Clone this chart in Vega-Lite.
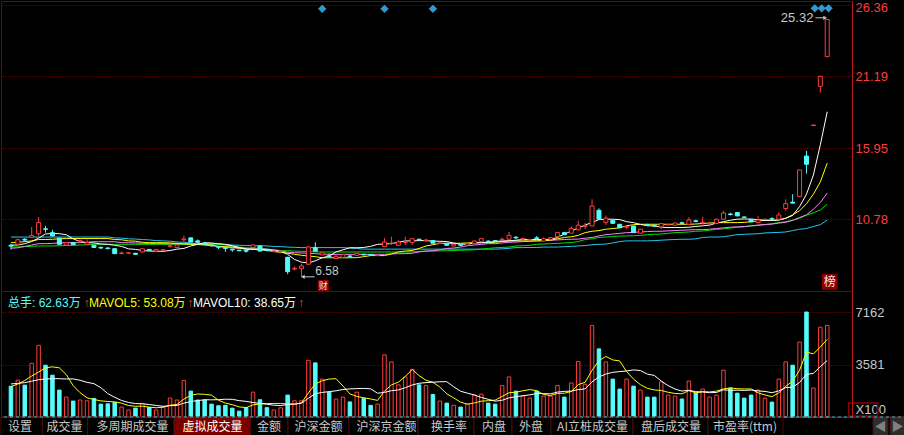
{
"$schema": "https://vega.github.io/schema/vega-lite/v6.json",
"background": "#000000",
"padding": 0,
"spacing": 0,
"bounds": "flush",
"resolve": {"scale": {"x": "independent", "y": "independent", "color": "independent"}},
"config": {"view": {"stroke": "#7a0000", "strokeWidth": 1}, "font": "Liberation Sans"},
"datasets": {
"k": [
{"i":0,"o":8.88,"c":8.82,"h":8.97,"l":8.56,"v":2100,"m5":8.9,"m10":9.07,"m20":8.66,"m30":8.76,"m60":9.48,"vm5":2080,"vm10":2260},
{"i":1,"o":8.95,"c":9.28,"h":9.36,"l":8.9,"v":2520,"m5":8.9,"m10":9.1,"m20":8.7,"m30":8.76,"m60":9.48,"vm5":2250,"vm10":2300},
{"i":2,"o":9.32,"c":9.26,"h":9.4,"l":9.18,"v":2180,"m5":9.0,"m10":9.15,"m20":8.8,"m30":8.78,"m60":9.48,"vm5":2500,"vm10":2350},
{"i":3,"o":9.47,"c":9.6,"h":10.21,"l":9.44,"v":3670,"m5":9.15,"m10":9.2,"m20":8.9,"m30":8.8,"m60":9.48,"vm5":2800,"vm10":2450},
{"i":4,"o":9.72,"c":10.53,"h":10.94,"l":9.55,"v":4900,"m5":9.4,"m10":9.3,"m20":9.0,"m30":8.83,"m60":9.48,"vm5":3074,"vm10":2550},
{"i":5,"o":10.08,"c":10.04,"h":10.3,"l":9.8,"v":3540,"m5":9.7,"m10":9.3,"m20":9.0,"m30":8.83,"m60":9.48,"vm5":3362,"vm10":2600},
{"i":6,"o":9.8,"c":9.56,"h":10.0,"l":9.53,"v":2860,"m5":9.75,"m10":9.32,"m20":9.02,"m30":8.83,"m60":9.48,"vm5":3430,"vm10":2620},
{"i":7,"o":9.4,"c":8.95,"h":9.42,"l":8.93,"v":1840,"m5":9.72,"m10":9.35,"m20":9.05,"m30":8.85,"m60":9.48,"vm5":3362,"vm10":2620},
{"i":8,"o":8.9,"c":9.07,"h":9.1,"l":8.88,"v":1360,"m5":9.65,"m10":9.37,"m20":9.07,"m30":8.86,"m60":9.48,"vm5":2900,"vm10":2600},
{"i":9,"o":9.07,"c":8.92,"h":9.08,"l":8.9,"v":1090,"m5":9.35,"m10":9.37,"m20":9.07,"m30":8.88,"m60":9.48,"vm5":2138,"vm10":2606},
{"i":10,"o":9.18,"c":9.22,"h":9.3,"l":9.1,"v":1160,"m5":9.15,"m10":9.37,"m20":9.07,"m30":8.9,"m60":9.48,"vm5":1662,"vm10":2512},
{"i":11,"o":8.92,"c":9.07,"h":9.3,"l":8.9,"v":1110,"m5":9.07,"m10":9.37,"m20":9.1,"m30":8.92,"m60":9.48,"vm5":1312,"vm10":2371},
{"i":12,"o":8.88,"c":8.72,"h":8.9,"l":8.7,"v":1270,"m5":9.05,"m10":9.37,"m20":9.14,"m30":8.95,"m60":9.48,"vm5":1198,"vm10":2280},
{"i":13,"o":8.72,"c":8.68,"h":8.8,"l":8.6,"v":880,"m5":8.98,"m10":9.37,"m20":9.14,"m30":8.95,"m60":9.48,"vm5":1102,"vm10":2001},
{"i":14,"o":8.68,"c":8.64,"h":8.75,"l":8.58,"v":900,"m5":8.95,"m10":9.37,"m20":9.14,"m30":8.95,"m60":9.48,"vm5":1064,"vm10":1601},
{"i":15,"o":8.63,"c":8.27,"h":8.65,"l":8.25,"v":1000,"m5":8.88,"m10":9.3,"m20":9.14,"m30":8.95,"m60":9.42,"vm5":1032,"vm10":1347},
{"i":16,"o":8.28,"c":8.32,"h":8.42,"l":8.22,"v":680,"m5":8.8,"m10":9.28,"m20":9.07,"m30":8.95,"m60":9.4,"vm5":946,"vm10":1129},
{"i":17,"o":8.3,"c":8.33,"h":8.38,"l":8.28,"v":480,"m5":8.62,"m10":9.2,"m20":9.07,"m30":8.95,"m60":9.35,"vm5":788,"vm10":993},
{"i":18,"o":8.3,"c":8.22,"h":8.32,"l":8.18,"v":610,"m5":8.58,"m10":9.18,"m20":9.05,"m30":8.95,"m60":9.33,"vm5":734,"vm10":918},
{"i":19,"o":8.39,"c":8.63,"h":8.65,"l":8.37,"v":930,"m5":8.5,"m10":9.1,"m20":9.03,"m30":8.95,"m60":9.3,"vm5":740,"vm10":902},
{"i":20,"o":8.58,"c":8.5,"h":8.6,"l":8.45,"v":660,"m5":8.46,"m10":9.07,"m20":9.02,"m30":8.95,"m60":9.27,"vm5":672,"vm10":852},
{"i":21,"o":8.46,"c":8.58,"h":8.6,"l":8.42,"v":480,"m5":8.45,"m10":9.07,"m20":9.0,"m30":8.95,"m60":9.22,"vm5":632,"vm10":789},
{"i":22,"o":8.53,"c":8.56,"h":8.6,"l":8.5,"v":680,"m5":8.44,"m10":9.07,"m20":9.0,"m30":8.95,"m60":9.2,"vm5":672,"vm10":730},
{"i":23,"o":8.8,"c":8.84,"h":9.1,"l":8.7,"v":1290,"m5":8.5,"m10":9.05,"m20":9.0,"m30":8.95,"m60":9.18,"vm5":808,"vm10":771},
{"i":24,"o":8.72,"c":8.9,"h":8.95,"l":8.7,"v":1160,"m5":8.6,"m10":9.02,"m20":9.0,"m30":8.95,"m60":9.12,"vm5":854,"vm10":797},
{"i":25,"o":9.28,"c":9.34,"h":9.58,"l":9.0,"v":2500,"m5":8.65,"m10":8.97,"m20":9.0,"m30":8.95,"m60":9.1,"vm5":1222,"vm10":947},
{"i":26,"o":9.42,"c":9.12,"h":9.44,"l":9.1,"v":1770,"m5":8.83,"m10":8.95,"m20":9.0,"m30":8.95,"m60":9.05,"vm5":1480,"vm10":1056},
{"i":27,"o":9.2,"c":9.1,"h":9.3,"l":9.03,"v":1160,"m5":8.95,"m10":8.95,"m20":8.95,"m30":8.95,"m60":9.0,"vm5":1576,"vm10":1124},
{"i":28,"o":9.05,"c":8.95,"h":9.08,"l":8.9,"v":1160,"m5":9.07,"m10":8.95,"m20":8.88,"m30":8.95,"m60":9.0,"vm5":1550,"vm10":1179},
{"i":29,"o":8.9,"c":8.85,"h":8.95,"l":8.78,"v":880,"m5":9.05,"m10":8.9,"m20":8.85,"m30":8.95,"m60":9.0,"vm5":1494,"vm10":1174},
{"i":30,"o":8.78,"c":8.74,"h":8.85,"l":8.6,"v":770,"m5":8.98,"m10":8.8,"m20":8.78,"m30":8.95,"m60":9.0,"vm5":1148,"vm10":1185},
{"i":31,"o":8.7,"c":8.65,"h":8.78,"l":8.4,"v":800,"m5":8.95,"m10":8.78,"m20":8.72,"m30":8.9,"m60":8.92,"vm5":954,"vm10":1217},
{"i":32,"o":8.6,"c":8.55,"h":8.63,"l":8.4,"v":600,"m5":8.85,"m10":8.75,"m20":8.7,"m30":8.8,"m60":8.9,"vm5":842,"vm10":1209},
{"i":33,"o":8.52,"c":8.48,"h":8.55,"l":8.45,"v":400,"m5":8.72,"m10":8.68,"m20":8.65,"m30":8.75,"m60":8.88,"vm5":690,"vm10":1120},
{"i":34,"o":8.5,"c":8.45,"h":8.62,"l":8.35,"v":640,"m5":8.62,"m10":8.6,"m20":8.6,"m30":8.7,"m60":8.86,"vm5":642,"vm10":1068},
{"i":35,"o":8.72,"c":8.9,"h":8.92,"l":8.7,"v":1700,"m5":8.6,"m10":8.58,"m20":8.6,"m30":8.68,"m60":8.85,"vm5":828,"vm10":988},
{"i":36,"o":8.83,"c":8.46,"h":8.85,"l":8.44,"v":1180,"m5":8.58,"m10":8.55,"m20":8.6,"m30":8.65,"m60":8.85,"vm5":904,"vm10":929},
{"i":37,"o":8.55,"c":8.5,"h":8.6,"l":8.42,"v":640,"m5":8.58,"m10":8.5,"m20":8.6,"m30":8.6,"m60":8.83,"vm5":912,"vm10":877},
{"i":38,"o":8.42,"c":8.46,"h":8.52,"l":8.4,"v":480,"m5":8.48,"m10":8.42,"m20":8.55,"m30":8.55,"m60":8.8,"vm5":928,"vm10":809},
{"i":39,"o":8.42,"c":8.47,"h":8.5,"l":8.4,"v":630,"m5":8.45,"m10":8.37,"m20":8.45,"m30":8.5,"m60":8.78,"vm5":926,"vm10":784},
{"i":40,"o":8.0,"c":6.96,"h":8.05,"l":6.77,"v":1500,"m5":8.22,"m10":8.3,"m20":8.38,"m30":8.48,"m60":8.75,"vm5":886,"vm10":857},
{"i":41,"o":7.15,"c":7.2,"h":7.35,"l":7.05,"v":1110,"m5":7.85,"m10":8.22,"m20":8.34,"m30":8.46,"m60":8.73,"vm5":872,"vm10":888},
{"i":42,"o":7.18,"c":7.37,"h":7.54,"l":6.58,"v":1110,"m5":7.65,"m10":8.15,"m20":8.32,"m30":8.44,"m60":8.71,"vm5":966,"vm10":939},
{"i":43,"o":7.5,"c":8.76,"h":8.8,"l":7.48,"v":3880,"m5":7.6,"m10":8.1,"m20":8.3,"m30":8.42,"m60":8.71,"vm5":1646,"vm10":1287},
{"i":44,"o":8.71,"c":8.45,"h":9.1,"l":8.42,"v":3700,"m5":7.75,"m10":8.05,"m20":8.27,"m30":8.4,"m60":8.71,"vm5":2260,"vm10":1593},
{"i":45,"o":8.18,"c":8.33,"h":8.36,"l":8.15,"v":2590,"m5":7.97,"m10":7.97,"m20":8.24,"m30":8.39,"m60":8.71,"vm5":2478,"vm10":1682},
{"i":46,"o":8.12,"c":8.06,"h":8.3,"l":7.98,"v":1700,"m5":8.1,"m10":7.97,"m20":8.22,"m30":8.39,"m60":8.71,"vm5":2596,"vm10":1734},
{"i":47,"o":7.92,"c":8.08,"h":8.15,"l":7.88,"v":1230,"m5":8.4,"m10":7.97,"m20":8.22,"m30":8.39,"m60":8.71,"vm5":2620,"vm10":1793},
{"i":48,"o":8.0,"c":8.2,"h":8.22,"l":7.98,"v":1360,"m5":8.55,"m10":7.97,"m20":8.22,"m30":8.39,"m60":8.71,"vm5":2116,"vm10":1881},
{"i":49,"o":8.1,"c":8.05,"h":8.2,"l":7.95,"v":1030,"m5":8.7,"m10":7.97,"m20":8.22,"m30":8.39,"m60":8.68,"vm5":1582,"vm10":1921},
{"i":50,"o":8.15,"c":8.3,"h":8.32,"l":8.12,"v":1700,"m5":8.7,"m10":7.98,"m20":8.22,"m30":8.39,"m60":8.65,"vm5":1404,"vm10":1941},
{"i":51,"o":8.22,"c":8.18,"h":8.25,"l":8.15,"v":1270,"m5":8.72,"m10":8.05,"m20":8.22,"m30":8.39,"m60":8.6,"vm5":1318,"vm10":1957},
{"i":52,"o":8.2,"c":8.17,"h":8.22,"l":8.14,"v":800,"m5":8.8,"m10":8.13,"m20":8.22,"m30":8.39,"m60":8.6,"vm5":1232,"vm10":1926},
{"i":53,"o":8.14,"c":8.16,"h":8.2,"l":8.1,"v":880,"m5":8.95,"m10":8.13,"m20":8.22,"m30":8.39,"m60":8.6,"vm5":1136,"vm10":1626},
{"i":54,"o":8.78,"c":9.12,"h":9.4,"l":8.75,"v":4250,"m5":8.97,"m10":8.13,"m20":8.22,"m30":8.39,"m60":8.6,"vm5":1780,"vm10":1681},
{"i":55,"o":9.01,"c":9.04,"h":9.5,"l":8.92,"v":3770,"m5":9.0,"m10":8.25,"m20":8.25,"m30":8.39,"m60":8.6,"vm5":2194,"vm10":1799},
{"i":56,"o":8.88,"c":9.12,"h":9.24,"l":8.86,"v":2200,"m5":9.1,"m10":8.4,"m20":8.27,"m30":8.39,"m60":8.6,"vm5":2380,"vm10":1849},
{"i":57,"o":9.08,"c":9.12,"h":9.5,"l":8.9,"v":2740,"m5":9.2,"m10":8.46,"m20":8.27,"m30":8.39,"m60":8.6,"vm5":2768,"vm10":2000},
{"i":58,"o":9.07,"c":9.36,"h":9.38,"l":8.9,"v":3260,"m5":9.2,"m10":8.5,"m20":8.3,"m30":8.4,"m60":8.6,"vm5":3244,"vm10":2190},
{"i":59,"o":9.32,"c":9.28,"h":9.36,"l":9.2,"v":2200,"m5":9.22,"m10":8.65,"m20":8.4,"m30":8.43,"m60":8.6,"vm5":2834,"vm10":2307},
{"i":60,"o":9.22,"c":9.26,"h":9.36,"l":9.12,"v":2150,"m5":9.22,"m10":8.83,"m20":8.46,"m30":8.46,"m60":8.6,"vm5":2510,"vm10":2352},
{"i":61,"o":9.22,"c":9.03,"h":9.24,"l":9.0,"v":1540,"m5":9.18,"m10":8.92,"m20":8.48,"m30":8.46,"m60":8.6,"vm5":2378,"vm10":2379},
{"i":62,"o":9.02,"c":9.05,"h":9.08,"l":9.0,"v":1090,"m5":9.17,"m10":9.02,"m20":8.55,"m30":8.47,"m60":8.6,"vm5":2048,"vm10":2408},
{"i":63,"o":9.03,"c":8.88,"h":9.05,"l":8.86,"v":950,"m5":9.15,"m10":9.02,"m20":8.65,"m30":8.48,"m60":8.6,"vm5":1586,"vm10":2415},
{"i":64,"o":8.83,"c":8.95,"h":8.97,"l":8.8,"v":800,"m5":9.05,"m10":9.02,"m20":8.68,"m30":8.5,"m60":8.6,"vm5":1306,"vm10":2070},
{"i":65,"o":8.92,"c":8.88,"h":8.98,"l":8.82,"v":680,"m5":8.95,"m10":9.03,"m20":8.75,"m30":8.52,"m60":8.6,"vm5":1012,"vm10":1761},
{"i":66,"o":8.9,"c":9.02,"h":9.05,"l":8.88,"v":880,"m5":8.97,"m10":9.05,"m20":8.85,"m30":8.53,"m60":8.6,"vm5":880,"vm10":1629},
{"i":67,"o":9.0,"c":9.19,"h":9.21,"l":8.98,"v":1500,"m5":9.05,"m10":9.07,"m20":8.9,"m30":8.55,"m60":8.6,"vm5":962,"vm10":1505},
{"i":68,"o":9.14,"c":9.36,"h":9.38,"l":9.12,"v":1560,"m5":9.07,"m10":9.07,"m20":8.95,"m30":8.6,"m60":8.6,"vm5":1084,"vm10":1335},
{"i":69,"o":9.18,"c":9.13,"h":9.25,"l":9.05,"v":950,"m5":9.1,"m10":9.07,"m20":9.0,"m30":8.65,"m60":8.6,"vm5":1114,"vm10":1210},
{"i":70,"o":9.22,"c":9.18,"h":9.26,"l":9.12,"v":880,"m5":9.15,"m10":9.1,"m20":9.0,"m30":8.7,"m60":8.6,"vm5":1154,"vm10":1083},
{"i":71,"o":9.28,"c":9.32,"h":9.45,"l":9.2,"v":2150,"m5":9.2,"m10":9.15,"m20":9.05,"m30":8.72,"m60":8.62,"vm5":1408,"vm10":1144},
{"i":72,"o":9.32,"c":9.6,"h":9.85,"l":9.3,"v":2740,"m5":9.2,"m10":9.2,"m20":9.1,"m30":8.75,"m60":8.66,"vm5":1656,"vm10":1309},
{"i":73,"o":9.46,"c":9.42,"h":9.55,"l":9.35,"v":1770,"m5":9.25,"m10":9.2,"m20":9.12,"m30":8.83,"m60":8.71,"vm5":1698,"vm10":1391},
{"i":74,"o":9.33,"c":9.38,"h":9.4,"l":9.3,"v":1430,"m5":9.3,"m10":9.2,"m20":9.15,"m30":8.85,"m60":8.71,"vm5":1794,"vm10":1454},
{"i":75,"o":9.28,"c":9.31,"h":9.34,"l":9.26,"v":1290,"m5":9.3,"m10":9.2,"m20":9.17,"m30":8.88,"m60":8.72,"vm5":1876,"vm10":1515},
{"i":76,"o":9.42,"c":9.38,"h":9.55,"l":9.28,"v":1770,"m5":9.3,"m10":9.2,"m20":9.2,"m30":8.95,"m60":8.72,"vm5":1800,"vm10":1604},
{"i":77,"o":9.19,"c":9.36,"h":9.45,"l":9.17,"v":1430,"m5":9.3,"m10":9.22,"m20":9.22,"m30":8.97,"m60":8.75,"vm5":1538,"vm10":1597},
{"i":78,"o":9.32,"c":9.44,"h":9.46,"l":9.3,"v":1430,"m5":9.3,"m10":9.25,"m20":9.25,"m30":9.0,"m60":8.75,"vm5":1470,"vm10":1584},
{"i":79,"o":9.5,"c":9.8,"h":9.82,"l":9.48,"v":2150,"m5":9.45,"m10":9.35,"m20":9.27,"m30":9.02,"m60":8.75,"vm5":1614,"vm10":1704},
{"i":80,"o":9.8,"c":9.65,"h":9.85,"l":9.62,"v":1360,"m5":9.7,"m10":9.45,"m20":9.3,"m30":9.05,"m60":8.78,"vm5":1628,"vm10":1752},
{"i":81,"o":9.76,"c":10.1,"h":10.27,"l":9.74,"v":2330,"m5":9.9,"m10":9.5,"m20":9.32,"m30":9.07,"m60":8.8,"vm5":1740,"vm10":1770},
{"i":82,"o":10.0,"c":10.34,"h":10.66,"l":9.98,"v":3790,"m5":10.15,"m10":9.6,"m20":9.33,"m30":9.15,"m60":8.83,"vm5":2212,"vm10":1875},
{"i":83,"o":10.26,"c":10.3,"h":10.5,"l":10.05,"v":2240,"m5":10.35,"m10":9.8,"m20":9.4,"m30":9.3,"m60":8.86,"vm5":2374,"vm10":1922},
{"i":84,"o":10.29,"c":11.74,"h":12.23,"l":10.27,"v":6250,"m5":10.55,"m10":9.9,"m20":9.45,"m30":9.35,"m60":8.92,"vm5":3194,"vm10":2404},
{"i":85,"o":11.43,"c":10.78,"h":11.57,"l":10.75,"v":4660,"m5":10.75,"m10":9.95,"m20":9.56,"m30":9.45,"m60":8.95,"vm5":3854,"vm10":2741},
{"i":86,"o":10.55,"c":10.86,"h":11.05,"l":10.35,"v":3770,"m5":10.78,"m10":10.05,"m20":9.65,"m30":9.48,"m60":8.97,"vm5":4142,"vm10":2941},
{"i":87,"o":10.7,"c":10.48,"h":10.72,"l":10.45,"v":2590,"m5":10.78,"m10":10.1,"m20":9.7,"m30":9.52,"m60":9.05,"vm5":3902,"vm10":3057},
{"i":88,"o":10.41,"c":10.16,"h":10.43,"l":10.14,"v":1910,"m5":10.75,"m10":10.15,"m20":9.75,"m30":9.55,"m60":9.15,"vm5":3836,"vm10":3105},
{"i":89,"o":10.2,"c":10.24,"h":10.35,"l":10.05,"v":2590,"m5":10.6,"m10":10.3,"m20":9.8,"m30":9.56,"m60":9.2,"vm5":3104,"vm10":3149},
{"i":90,"o":10.28,"c":9.8,"h":10.3,"l":9.78,"v":2110,"m5":10.53,"m10":10.38,"m20":9.82,"m30":9.58,"m60":9.2,"vm5":2594,"vm10":3224},
{"i":91,"o":9.76,"c":10.05,"h":10.07,"l":9.74,"v":1840,"m5":10.4,"m10":10.41,"m20":9.85,"m30":9.6,"m60":9.2,"vm5":2208,"vm10":3175},
{"i":92,"o":10.38,"c":10.34,"h":10.45,"l":10.28,"v":1360,"m5":10.3,"m10":10.41,"m20":9.88,"m30":9.65,"m60":9.2,"vm5":1962,"vm10":2932},
{"i":93,"o":10.32,"c":10.28,"h":10.4,"l":10.2,"v":1360,"m5":10.29,"m10":10.41,"m20":9.9,"m30":9.68,"m60":9.22,"vm5":1852,"vm10":2844},
{"i":94,"o":10.22,"c":10.46,"h":10.5,"l":10.05,"v":2400,"m5":10.2,"m10":10.41,"m20":9.9,"m30":9.7,"m60":9.25,"vm5":1814,"vm10":2459},
{"i":95,"o":10.36,"c":10.39,"h":10.41,"l":10.35,"v":1500,"m5":10.17,"m10":10.41,"m20":9.93,"m30":9.75,"m60":9.28,"vm5":1692,"vm10":2143},
{"i":96,"o":10.34,"c":10.5,"h":10.52,"l":10.32,"v":1430,"m5":10.17,"m10":10.41,"m20":9.95,"m30":9.8,"m60":9.3,"vm5":1610,"vm10":1909},
{"i":97,"o":10.52,"c":10.48,"h":10.6,"l":10.4,"v":1230,"m5":10.17,"m10":10.41,"m20":9.98,"m30":9.82,"m60":9.32,"vm5":1584,"vm10":1773},
{"i":98,"o":10.41,"c":10.72,"h":10.92,"l":10.39,"v":2460,"m5":10.2,"m10":10.41,"m20":10.0,"m30":9.85,"m60":9.32,"vm5":1804,"vm10":1828},
{"i":99,"o":10.66,"c":10.62,"h":10.75,"l":10.55,"v":1630,"m5":10.25,"m10":10.43,"m20":10.02,"m30":9.9,"m60":9.35,"vm5":1650,"vm10":1732},
{"i":100,"o":10.51,"c":10.55,"h":10.95,"l":10.29,"v":1910,"m5":10.3,"m10":10.47,"m20":10.02,"m30":9.92,"m60":9.45,"vm5":1732,"vm10":1712},
{"i":101,"o":10.43,"c":10.47,"h":10.6,"l":10.25,"v":1360,"m5":10.35,"m10":10.5,"m20":10.05,"m30":9.98,"m60":9.48,"vm5":1718,"vm10":1664},
{"i":102,"o":10.48,"c":10.78,"h":10.8,"l":10.46,"v":1500,"m5":10.5,"m10":10.53,"m20":10.1,"m30":10.03,"m60":9.48,"vm5":1772,"vm10":1678},
{"i":103,"o":10.78,"c":11.23,"h":11.4,"l":10.76,"v":3200,"m5":10.6,"m10":10.53,"m20":10.15,"m30":10.08,"m60":9.5,"vm5":1920,"vm10":1862},
{"i":104,"o":11.16,"c":11.12,"h":11.25,"l":11.05,"v":1980,"m5":10.7,"m10":10.53,"m20":10.2,"m30":10.13,"m60":9.58,"vm5":1990,"vm10":1820},
{"i":105,"o":11.26,"c":11.02,"h":11.28,"l":11.0,"v":1630,"m5":10.78,"m10":10.53,"m20":10.22,"m30":10.2,"m60":9.66,"vm5":1934,"vm10":1833},
{"i":106,"o":10.94,"c":10.92,"h":10.96,"l":10.9,"v":1290,"m5":10.8,"m10":10.55,"m20":10.25,"m30":10.22,"m60":9.68,"vm5":1920,"vm10":1819},
{"i":107,"o":10.78,"c":10.58,"h":10.8,"l":10.56,"v":1500,"m5":10.78,"m10":10.6,"m20":10.3,"m30":10.28,"m60":9.7,"vm5":1920,"vm10":1846},
{"i":108,"o":10.53,"c":10.72,"h":11.0,"l":10.51,"v":1840,"m5":10.75,"m10":10.65,"m20":10.35,"m30":10.33,"m60":9.72,"vm5":1648,"vm10":1784},
{"i":109,"o":10.76,"c":10.78,"h":10.8,"l":10.74,"v":1290,"m5":10.7,"m10":10.7,"m20":10.4,"m30":10.38,"m60":9.78,"vm5":1510,"vm10":1750},
{"i":110,"o":10.82,"c":10.79,"h":10.92,"l":10.7,"v":1020,"m5":10.7,"m10":10.7,"m20":10.42,"m30":10.45,"m60":9.8,"vm5":1388,"vm10":1661},
{"i":111,"o":10.78,"c":11.09,"h":11.3,"l":10.76,"v":2590,"m5":10.72,"m10":10.72,"m20":10.5,"m30":10.53,"m60":9.82,"vm5":1648,"vm10":1784},
{"i":112,"o":11.56,"c":11.91,"h":12.23,"l":11.38,"v":3770,"m5":10.85,"m10":10.85,"m20":10.55,"m30":10.6,"m60":9.85,"vm5":2102,"vm10":2011},
{"i":113,"o":12.02,"c":11.95,"h":12.6,"l":11.93,"v":3540,"m5":11.05,"m10":11.1,"m20":10.7,"m30":10.7,"m60":9.95,"vm5":2442,"vm10":2045},
{"i":114,"o":12.42,"c":14.36,"h":14.38,"l":12.4,"v":5120,"m5":11.7,"m10":11.4,"m20":10.9,"m30":10.85,"m60":10.05,"vm5":3208,"vm10":2359},
{"i":115,"o":15.38,"c":14.78,"h":15.75,"l":14.1,"v":7180,"m5":12.6,"m10":11.9,"m20":11.1,"m30":11.07,"m60":10.1,"vm5":4440,"vm10":2914},
{"i":116,"o":17.6,"c":17.64,"h":17.64,"l":17.6,"v":1980,"m5":14.0,"m10":12.6,"m20":11.5,"m30":11.25,"m60":10.25,"vm5":4318,"vm10":2983},
{"i":117,"o":20.46,"c":21.19,"h":21.22,"l":19.99,"v":6140,"m5":16.2,"m10":13.5,"m20":12.0,"m30":11.45,"m60":10.38,"vm5":4792,"vm10":3447},
{"i":118,"o":22.62,"c":25.32,"h":25.32,"l":22.6,"v":6263,"m5":18.61,"m10":14.87,"m20":12.68,"m30":11.87,"m60":10.72,"vm5":5308,"vm10":3865}
],
"ann": [
{"kind":"dia","i":45,"p":26.1},
{"kind":"dia","i":54,"p":26.1},
{"kind":"dia","i":61,"p":26.1},
{"kind":"dia","i":116.2,"p":26.14},
{"kind":"dia","i":117.2,"p":26.14},
{"kind":"dia","i":118.2,"p":26.14},
{"kind":"hi","i":116.0,"p":25.4,"t":"25.32"},
{"kind":"lo","i":44.0,"p":7.02,"t":"6.58"},
{"kind":"harrow","i":116.3,"i2":117.7,"p":25.45},
{"kind":"larrow","i":43.9,"i2":42.2,"p":6.58},
{"kind":"box1","i":45.14,"p":5.95,"t":"财"},
{"kind":"box2","i":118.36,"p":6.21,"t":"榜"}
],
"x100": [{"a":121.1,"b":125.3,"lo":70,"hi":958}],
"hdr": [
{"t":"总手: 62.63万","k":"a","p":-0.43},
{"t":"↑","k":"u","p":10.5},
{"t":"MAVOL5: 53.08万","k":"b","p":11.3},
{"t":"↑","k":"u","p":25.5},
{"t":"MAVOL10: 38.65万","k":"w","p":26.3},
{"t":"↑","k":"u","p":41.5}
],
"tabs": [
{"t":"设置","a":0,"b":41.6,"m":19,"s":0},
{"t":"成交量","a":41.6,"b":86.6,"m":63.5,"s":0},
{"t":"多周期成交量","a":86.6,"b":173,"m":131.5,"s":0},
{"t":"虚拟成交量","a":173,"b":249.4,"m":211.5,"s":1},
{"t":"金额","a":249.4,"b":287,"m":268,"s":0},
{"t":"沪深金额","a":287,"b":348,"m":317.5,"s":0},
{"t":"沪深京金额","a":348,"b":417,"m":385.5,"s":0},
{"t":"换手率","a":417,"b":473,"m":448,"s":0},
{"t":"内盘","a":473,"b":511,"m":493,"s":0},
{"t":"外盘","a":511,"b":550,"m":530,"s":0},
{"t":"AI立桩成交量","a":550,"b":632,"m":591.5,"s":0},
{"t":"盘后成交量","a":632,"b":707,"m":670,"s":0},
{"t":"市盈率(ttm)","a":707,"b":782,"m":744,"s":0},
{"t":"◀","a":872,"b":887,"m":879.5,"s":2},
{"t":"▶","a":889,"b":904,"m":896.5,"s":2}
]
},
"vconcat": [
{
"width": 851, "height": 290,
"encoding": {
  "x": {"type": "quantitative", "scale": {"domain": [-0.714, 120.857], "nice": false, "zero": false}, "axis": null},
  "y": {"type": "quantitative", "title": null, "scale": {"domain": [5.55, 26.673], "nice": false, "zero": false},
   "axis": {"orient": "right", "title": null, "values": [10.78, 15.95, 21.19, 26.36], "format": ".2f", "ticks": false, "labelPadding": 3,
    "labelColor": "#ff3c3c", "labelFontSize": 13, "labelFont": "Liberation Sans", "labelOverlap": false, "labelBound": false,
    "labelBaseline": {"condition": {"test": "datum.value > 26", "value": "top"}, "value": "middle"},
    "labelOffset": {"condition": {"test": "datum.value > 26", "value": -4}, "value": 0},
    "domainColor": "#c01818", "domainWidth": 1, "grid": true, "gridColor": "#a00000", "gridDash": [1, 2], "gridWidth": 1}}
},
"layer": [
{"data": {"name": "k"},
 "transform": [{"fold": ["m60","m30","m20","m10","m5"], "as": ["ma","val"]}],
 "mark": {"type": "line", "strokeWidth": 1},
 "encoding": {
  "x": {"field": "i"},
  "y": {"field": "val"},
  "color": {"field": "ma", "type": "nominal", "scale": {"domain": ["m5","m10","m20","m30","m60"], "range": ["#ffffff","#ffff00","#ff80ff","#00e000","#22c8f0"]}, "legend": null}
 }},
{"data": {"name": "k"},
 "mark": {"type": "rule", "strokeWidth": 1},
 "encoding": {
  "x": {"field": "i"},
  "y": {"field": "l"},
  "y2": {"field": "h"},
  "color": {"condition": {"test": "datum.c >= datum.o", "value": "#ff3c3c"}, "value": "#54fcfc"}
 }},
{"data": {"name": "k"},
 "mark": {"type": "bar", "size": 4, "strokeWidth": 1, "orient": "vertical"},
 "encoding": {
  "x": {"field": "i"},
  "y": {"field": "o"},
  "y2": {"field": "c"},
  "fill": {"condition": {"test": "datum.c >= datum.o", "value": "#000000"}, "value": "#54fcfc"},
  "stroke": {"condition": {"test": "datum.c >= datum.o", "value": "#ff3c3c"}, "value": "#54fcfc"}
 }},
{"data": {"name": "ann"},
 "transform": [{"filter": "datum.kind == 'dia'"}],
 "mark": {"type": "point", "shape": "diamond", "filled": true, "size": 70, "color": "#3399cc", "opacity": 1},
 "encoding": {
  "x": {"field": "i"},
  "y": {"field": "p"}
 }},
{"data": {"name": "ann"},
 "transform": [{"filter": "datum.kind == 'harrow' || datum.kind == 'larrow'"}],
 "mark": {"type": "rule", "color": "#c8c8c8", "strokeWidth": 1},
 "encoding": {
  "x": {"field": "i"},
  "x2": {"field": "i2"},
  "y": {"field": "p"}
 }},
{"data": {"name": "ann"},
 "transform": [{"filter": "datum.kind == 'harrow'"}],
 "mark": {"type": "point", "shape": "triangle-right", "filled": true, "size": 18, "color": "#c8c8c8", "opacity": 1},
 "encoding": {
  "x": {"field": "i2"},
  "y": {"field": "p"}
 }},
{"data": {"name": "ann"},
 "transform": [{"filter": "datum.kind == 'larrow'"}],
 "mark": {"type": "point", "shape": "triangle-left", "filled": true, "size": 18, "color": "#c8c8c8", "opacity": 1},
 "encoding": {
  "x": {"field": "i2"},
  "y": {"field": "p"}
 }},
{"data": {"name": "ann"},
 "transform": [{"filter": "datum.kind == 'hi'"}],
 "mark": {"type": "text", "align": "right", "baseline": "middle", "fontSize": 13, "font": "Liberation Sans", "color": "#c8c8c8"},
 "encoding": {
  "x": {"field": "i"},
  "y": {"field": "p"},
  "text": {"field": "t"}
 }},
{"data": {"name": "ann"},
 "transform": [{"filter": "datum.kind == 'lo'"}],
 "mark": {"type": "text", "align": "left", "baseline": "middle", "fontSize": 12, "font": "Liberation Sans", "color": "#c8c8c8"},
 "encoding": {
  "x": {"field": "i"},
  "y": {"field": "p"},
  "text": {"field": "t"}
 }},
{"data": {"name": "ann"},
 "transform": [{"filter": "datum.kind == 'box1'"}],
 "mark": {"type": "point", "shape": "square", "filled": true, "size": 121, "color": "#8a0000", "opacity": 1},
 "encoding": {
  "x": {"field": "i"},
  "y": {"field": "p"}
 }},
{"data": {"name": "ann"},
 "transform": [{"filter": "datum.kind == 'box2'"}],
 "mark": {"type": "point", "shape": "square", "filled": true, "size": 250, "color": "#8a0000", "opacity": 1},
 "encoding": {
  "x": {"field": "i"},
  "y": {"field": "p"}
 }},
{"data": {"name": "ann"},
 "transform": [{"filter": "datum.kind == 'box1'"}],
 "mark": {"type": "text", "align": "center", "baseline": "middle", "fontSize": 9, "font": "Noto Sans CJK SC", "color": "#ffe0e0"},
 "encoding": {
  "x": {"field": "i"},
  "y": {"field": "p"},
  "text": {"field": "t"}
 }},
{"data": {"name": "ann"},
 "transform": [{"filter": "datum.kind == 'box2'"}],
 "mark": {"type": "text", "align": "center", "baseline": "middle", "fontSize": 12, "font": "Noto Sans CJK SC", "color": "#ffe0e0"},
 "encoding": {
  "x": {"field": "i"},
  "y": {"field": "p"},
  "text": {"field": "t"}
 }}
]
},
{
"width": 851, "height": 126,
"encoding": {
  "x": {"type": "quantitative", "scale": {"domain": [-0.714, 120.857], "nice": false, "zero": false}, "axis": null},
  "y": {"type": "quantitative", "title": null, "scale": {"domain": [0, 8618], "nice": false},
   "axis": {"orient": "right", "title": null, "values": [513, 3581, 7162], "format": "d",
    "labelExpr": "datum.value < 1000 ? 'X100' : datum.label",
    "ticks": false, "labelPadding": 3, "labelColor": "#c8c8c8", "labelFontSize": 13, "labelFont": "Liberation Sans",
    "labelOverlap": false, "labelBaseline": "middle",
    "domainColor": "#c01818", "domainWidth": 1, "grid": true, "gridColor": "#a00000", "gridDash": [1, 2], "gridWidth": 1,
    "gridOpacity": {"condition": {"test": "datum.value < 1000", "value": 0}, "value": 1}}}
},
"layer": [
{"data": {"name": "k"},
 "mark": {"type": "bar", "size": 3.5, "strokeWidth": 1, "orient": "vertical"},
 "encoding": {
  "x": {"field": "i"},
  "y": {"field": "v"},
  "fill": {"condition": {"test": "datum.c >= datum.o", "value": "#000000"}, "value": "#54fcfc"},
  "stroke": {"condition": {"test": "datum.c >= datum.o", "value": "#ff3c3c"}, "value": "#54fcfc"}
 }},
{"data": {"name": "k"},
 "mark": {"type": "line", "strokeWidth": 1, "color": "#ffff00"},
 "encoding": {
  "x": {"field": "i"},
  "y": {"field": "vm5"}
 }},
{"data": {"name": "k"},
 "mark": {"type": "line", "strokeWidth": 1, "color": "#ffffff"},
 "encoding": {
  "x": {"field": "i"},
  "y": {"field": "vm10"}
 }},
{"data": {"name": "x100"},
 "mark": {"type": "rect", "fill": null, "filled": false, "stroke": "#8a0000", "strokeWidth": 1.5, "clip": false},
 "encoding": {
  "x": {"field": "a"},
  "x2": {"field": "b"},
  "y": {"field": "lo"},
  "y2": {"field": "hi"}
 }},
{"data": {"name": "hdr"},
 "mark": {"type": "text", "align": "left", "baseline": "middle", "fontSize": 12, "font": "Liberation Sans, Noto Sans CJK SC"},
 "encoding": {
  "x": {"field": "p"},
  "y": {"datum": 7800},
  "text": {"field": "t"},
  "color": {"field": "k", "type": "nominal", "scale": {"domain": ["a","u","b","w"], "range": ["#54fcfc","#ff4040","#ffff00","#ffffff"]}, "legend": null}
 }}
]
},
{
"width": 904, "height": 19,
"view": {"stroke": null},
"layer": [
{"data": {"name": "tabs"},
 "mark": {"type": "rect", "strokeWidth": 1, "stroke": "#4a0c0c"},
 "encoding": {
  "x": {"field": "a", "type": "quantitative", "scale": {"domain": [0, 904], "nice": false, "zero": false}, "axis": null},
  "x2": {"field": "b"},
  "fill": {"condition": [{"test": "datum.s == 1", "value": "#7a0000"}, {"test": "datum.s == 2", "value": "#2e2e2e"}], "value": "#000000"}
 }},
{"data": {"name": "tabs"},
 "mark": {"type": "text", "align": "center", "baseline": "middle", "fontSize": 12, "font": "Noto Sans CJK SC"},
 "encoding": {
  "x": {"field": "m", "type": "quantitative"},
  "text": {"field": "t"},
  "color": {"condition": [{"test": "datum.s == 1", "value": "#ffffff"}, {"test": "datum.s == 2", "value": "#808080"}], "value": "#c8c8c8"}
 }},
{"data": {"values": [{"u": 0, "w": 904}]},
 "mark": {"type": "rule", "color": "#c00000", "strokeWidth": 1, "strokeDash": [3, 3]},
 "encoding": {
  "x": {"field": "u", "type": "quantitative"},
  "x2": {"field": "w"},
  "y": {"datum": 1, "type": "quantitative", "scale": {"domain": [0, 1]}, "axis": null}
 }},
{"data": {"values": [{"u": 3, "w": 904}]},
 "mark": {"type": "rule", "color": "#30c8d8", "strokeWidth": 1, "strokeDash": [3, 3]},
 "encoding": {
  "x": {"field": "u", "type": "quantitative"},
  "x2": {"field": "w"},
  "y": {"datum": 1, "type": "quantitative"}
 }}
]
}
]
}
